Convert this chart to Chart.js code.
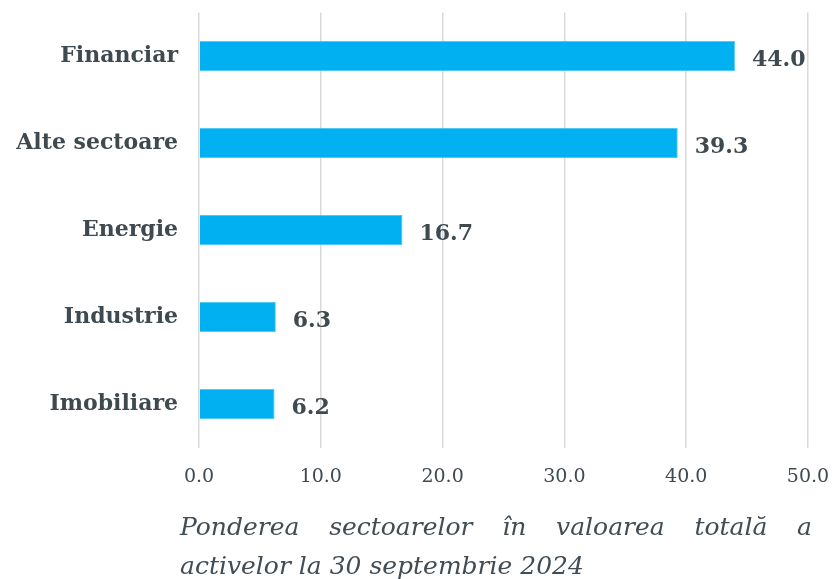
<!DOCTYPE html>
<html><head><meta charset="utf-8">
<script src="https://cdn.jsdelivr.net/npm/chart.js@4"></script>
<style>
html,body{margin:0;padding:0;background:#fff;}
#wrap{position:relative;width:834px;height:579px;}
#c{position:absolute;left:0;top:0;}
#cap{position:absolute;left:180px;width:632px;top:507px;font-family:"DejaVu Serif",serif;font-style:italic;font-size:25px;line-height:39px;color:#414c54;}
#cap .l1{display:block;text-align:justify;text-align-last:justify;}
</style></head>
<body><div id="wrap"><canvas id="c" width="834" height="579"></canvas>
<div id="cap"><span class="l1">Ponderea sectoarelor în valoarea totală a</span><span>activelor la 30 septembrie 2024</span></div></div>
<script>
const categories = ["Financiar", "Alte sectoare", "Energie", "Industrie", "Imobiliare"];
const values = [44.0, 39.3, 16.7, 6.3, 6.2];
const xTicks = [0, 10, 20, 30, 40, 50];

const textColor = "#3e4950";
const fontFam = "'DejaVu Serif', serif";

const valueLabels = {
  id: "valueLabels",
  afterDatasetsDraw(chart) {
    const ctx = chart.ctx;
    const meta = chart.getDatasetMeta(0);
    ctx.save();
    ctx.fillStyle = textColor;
    ctx.font = "bold 22px " + fontFam;
    ctx.textAlign = "left";
    ctx.textBaseline = "middle";
    meta.data.forEach((bar, i) => {
      ctx.fillText(values[i].toFixed(1), bar.x + 17, bar.y + 4);
    });
    ctx.restore();
  }
};

function zeroPad(scale) {
  scale.paddingTop = 0; scale.paddingBottom = 0;
  scale.paddingLeft = 0; scale.paddingRight = 0;
}

new Chart(document.getElementById("c"), {
  type: "bar",
  data: {
    labels: categories,
    datasets: [{
      data: values,
      backgroundColor: "#00B0F0",
      borderColor: "#3cc3f2",
      borderWidth: 0.8,
      categoryPercentage: 1.0,
      barPercentage: 0.345
    }]
  },
  options: {
    indexAxis: "y",
    responsive: false,
    animation: false,
    layout: { padding: { top: 12.5, right: 26, bottom: 81.5, left: 0 } },
    plugins: { legend: { display: false }, tooltip: { enabled: false } },
    scales: {
      x: {
        min: 0, max: 50,
        afterBuildTicks(scale) { scale.ticks = xTicks.map(v => ({ value: v })); },
        afterFit(scale) { scale.height = 50; zeroPad(scale); },
        grid: { color: "#d9d9d9", lineWidth: 1.5, drawTicks: false },
        border: { display: false },
        ticks: {
          padding: 18,
          color: textColor,
          font: { family: fontFam, size: 19 },
          callback: v => Number(v).toFixed(1)
        }
      },
      y: {
        afterFit(scale) { scale.width = 199; zeroPad(scale); },
        grid: { display: false, drawTicks: false },
        border: { display: false },
        ticks: {
          padding: 21,
          color: textColor,
          font: { family: fontFam, size: 22, weight: "bold" }
        }
      }
    }
  },
  plugins: [valueLabels]
});
</script></body></html>
